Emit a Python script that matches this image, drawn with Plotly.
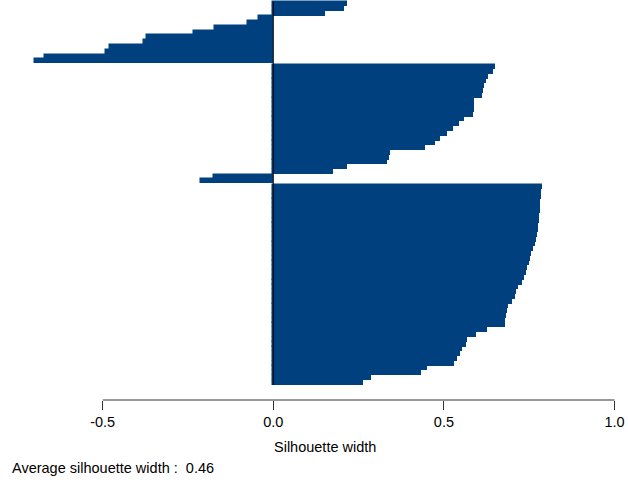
import plotly.graph_objects as go

# Silhouette widths, each cluster sorted in decreasing order (top to bottom)
cluster1 = [0.216, 0.208, 0.151, -0.041, -0.073, -0.171, -0.233, -0.369,
            -0.379, -0.478, -0.491, -0.668, -0.698]
cluster2 = [0.651, 0.645, 0.628, 0.622, 0.618, 0.615, 0.613, 0.589, 0.588,
            0.587, 0.585, 0.558, 0.545, 0.528, 0.510, 0.489, 0.474, 0.444,
            0.341, 0.339, 0.334, 0.215, 0.175, -0.175, -0.212]
cluster3 = [0.787, 0.786, 0.785, 0.783, 0.782, 0.781, 0.780, 0.778, 0.777,
            0.775, 0.773, 0.770, 0.766, 0.761, 0.755, 0.751, 0.748, 0.745,
            0.741, 0.736, 0.729, 0.716, 0.711, 0.707, 0.700, 0.687, 0.685,
            0.683, 0.679, 0.679, 0.626, 0.594, 0.569, 0.564, 0.552, 0.548,
            0.538, 0.530, 0.450, 0.432, 0.285, 0.264]
clusters = [cluster1, cluster2, cluster3]
tick_vals = [-0.5, 0.0, 0.5, 1.0]
tick_text = ["-0.5", "0.0", "0.5", "1.0"]
x_title = "Silhouette width"

BAR_COLOR = "#00407F"
GAP = 0.2  # space between clusters, in bar units
FONT = "Liberation Sans, Arial, sans-serif"
FS = 14.5

# positions of bars (top to bottom)
ypos, xvals = [], []
pos = 0.0
for ci, cl in enumerate(clusters):
    if ci > 0:
        pos += GAP
    for v in cl:
        ypos.append(pos + 0.5)
        xvals.append(v)
        pos += 1.0
y_end = pos

all_vals = [v for cl in clusters for v in cl]
avg = sum(all_vals) / len(all_vals)

W, H = 628, 485
L, R, T, B = 20, 8, 0, 85
plot_h = H - T - B
unit_px = (385 - 1.7) / y_end
top_off = 1.7 / unit_px
y_range = [plot_h / unit_px - top_off, -top_off]

fig = go.Figure()
fig.add_trace(go.Bar(
    x=xvals, y=ypos, orientation="h", width=0.85,
    marker=dict(color=BAR_COLOR, line=dict(width=1.5, color=BAR_COLOR)),
    hoverinfo="x",
))

# zero line across bars
fig.add_shape(type="line", xref="x", yref="y", x0=0, x1=0, y0=0, y1=y_end,
              line=dict(color="black", width=1))
# axis line spanning the ticks only (R style)
fig.add_shape(type="line", xref="x", yref="paper", x0=tick_vals[0], x1=tick_vals[-1],
              y0=0, y1=0, line=dict(color="#333333", width=1))

fig.add_annotation(text=x_title, xref="paper", yref="paper",
                   x=(324.6 - L) / (W - L - R), y=-47 / plot_h,
                   xanchor="center", yanchor="middle", showarrow=False,
                   font=dict(family=FONT, size=FS, color="black"))
fig.add_annotation(text=f"Average silhouette width :  {avg:.2f}",
                   xref="paper", yref="paper",
                   x=(10 - L) / (W - L - R), y=-68 / plot_h,
                   xanchor="left", yanchor="middle", showarrow=False,
                   font=dict(family=FONT, size=FS, color="black"))

x0_px = 273.3
px_per_unit = (614.5 - 102.7) / 1.5
x_range = [(L - x0_px) / px_per_unit, (W - R - x0_px) / px_per_unit]

fig.update_layout(
    width=W, height=H,
    margin=dict(l=L, r=R, t=T, b=B, pad=0),
    paper_bgcolor="white", plot_bgcolor="white",
    showlegend=False, bargap=0,
    font=dict(family=FONT, size=FS, color="black"),
    xaxis=dict(range=x_range, tickvals=tick_vals, ticktext=tick_text,
               ticks="outside", ticklen=9, tickwidth=1, tickcolor="#333333",
               showgrid=False, zeroline=False, showline=False, automargin=False,
               tickfont=dict(family=FONT, size=FS, color="black")),
    yaxis=dict(range=y_range, visible=False, showgrid=False, zeroline=False,
               automargin=False),
)

fig.write_html("out.html", config={"displayModeBar": False},
               post_script="document.body.style.margin='0';")
